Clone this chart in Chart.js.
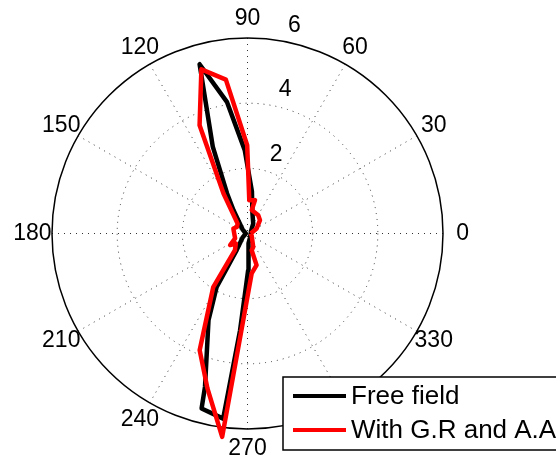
<!DOCTYPE html>
<html>
<head>
<meta charset="utf-8">
<script src="https://cdn.jsdelivr.net/npm/chart.js@4.4.0/dist/chart.umd.min.js"></script>
<style>
    body { margin: 0; background: white; }
    canvas { display: block; }
</style>
</head>
<body>
<canvas id="grafico" width="556" height="465"></canvas>
<script>
// angles in degrees, radii in the same unit as the rings (max ring = 6)
var freeAngles = [0, 40, 60, 76, 84, 91.9, 98.9, 105.8, 111.8, 117, 121, 140, 180, 220, 237, 240, 245.8, 254.5, 255.3, 262.5, 265.6, 271, 276, 300, 360];
var freeRadii  = [0.1, 0.15, 0.35, 0.63, 1.3, 2.56, 4.09, 5.40, 2.87, 1.38, 0.84, 0.2, 0.05, 0.2, 0.61, 1.89, 2.92, 4.88, 5.55, 5.73, 2.98, 1.13, 0.3, 0.15, 0.1];

var withAngles = [0, 28.5, 46.8, 59.5, 79.8, 77.3, 86.9, 90.2, 98, 105.7, 113.9, 121, 135, 148, 160.6, 201.8, 213.8, 220.5, 233, 237.4, 247.7, 255.5, 262.9, 276, 286, 284, 293, 330, 360];
var withRadii  = [0.1, 0.32, 0.56, 0.65, 0.73, 1.05, 1.02, 2.71, 4.77, 5.23, 3.63, 1.43, 0.43, 0.38, 0.46, 0.41, 0.64, 0.47, 0.64, 1.95, 3.87, 4.91, 6.29, 1.23, 1.01, 0.53, 0.45, 0.15, 0.1];

var ringValues = [2, 4, 6];
var spokeAngles = [0, 30, 60, 90, 120, 150];
var angleLabels = ['0', '30', '60', '90', '120', '150', '180', '210', '240', '270', '300', '330'];
var seriesNames = ['Free field', 'With G.R and A.A'];
var rMax = 6;

function toXY(angles, radii) {
    var pts = [];
    for (var i = 0; i < angles.length; i++) {
        var t = angles[i] * Math.PI / 180;
        pts.push({ x: radii[i] * Math.cos(t), y: radii[i] * Math.sin(t) });
    }
    return pts;
}

// grid, labels and legend like the matlab polar() plot
var polarGrid = {
    id: 'polarGrid',
    beforeDatasetsDraw: function(chart) {
        var ctx = chart.ctx;
        var sx = chart.scales.x, sy = chart.scales.y;
        var cx = sx.getPixelForValue(0), cy = sy.getPixelForValue(0);
        var unit = sx.getPixelForValue(1) - cx;

        ctx.save();
        // dotted rings and spokes
        ctx.strokeStyle = '#333';
        ctx.lineWidth = 1;
        ctx.setLineDash([1, 5]);
        for (var i = 0; i < ringValues.length - 1; i++) {
            ctx.beginPath();
            ctx.arc(cx, cy, ringValues[i] * unit, 0, Math.PI * 2);
            ctx.stroke();
        }
        for (var j = 0; j < spokeAngles.length; j++) {
            var t = spokeAngles[j] * Math.PI / 180;
            ctx.beginPath();
            ctx.moveTo(sx.getPixelForValue(-rMax * Math.cos(t)), sy.getPixelForValue(-rMax * Math.sin(t)));
            ctx.lineTo(sx.getPixelForValue(rMax * Math.cos(t)), sy.getPixelForValue(rMax * Math.sin(t)));
            ctx.stroke();
        }
        // outer solid circle
        ctx.setLineDash([]);
        ctx.strokeStyle = 'black';
        ctx.lineWidth = 1.5;
        ctx.beginPath();
        ctx.arc(cx, cy, rMax * unit, 0, Math.PI * 2);
        ctx.stroke();

        // angle labels at 1.1 * rmax
        ctx.fillStyle = 'black';
        ctx.font = '23px "Liberation Sans", Arial, sans-serif';
        ctx.textAlign = 'center';
        ctx.textBaseline = 'middle';
        for (var k = 0; k < angleLabels.length; k++) {
            var a = k * 30 * Math.PI / 180;
            ctx.fillText(angleLabels[k], sx.getPixelForValue(1.1 * rMax * Math.cos(a)), sy.getPixelForValue(1.1 * rMax * Math.sin(a)));
        }
        // radial labels at 82 degrees
        ctx.textAlign = 'left';
        ctx.textBaseline = 'bottom';
        var a82 = 82 * Math.PI / 180;
        for (var m = 0; m < ringValues.length; m++) {
            var rr = ringValues[m] + 0.1;
            ctx.fillText('  ' + ringValues[m], sx.getPixelForValue(rr * Math.cos(a82)), sy.getPixelForValue(rr * Math.sin(a82)));
        }
        ctx.restore();
    },
    afterDraw: function(chart) {
        var ctx = chart.ctx;
        ctx.save();
        ctx.fillStyle = 'white';
        ctx.fillRect(283, 377, 300, 73);
        ctx.strokeStyle = 'black';
        ctx.lineWidth = 1.5;
        ctx.strokeRect(283, 377, 300, 73);

        var cores = ['black', 'red'];
        var ys = [396, 430];
        ctx.lineWidth = 4;
        ctx.font = '26px "Liberation Sans", Arial, sans-serif';
        ctx.textAlign = 'left';
        ctx.textBaseline = 'middle';
        for (var i = 0; i < seriesNames.length; i++) {
            ctx.strokeStyle = cores[i];
            ctx.beginPath();
            ctx.moveTo(293, ys[i]);
            ctx.lineTo(346, ys[i]);
            ctx.stroke();
            ctx.fillStyle = 'black';
            ctx.fillText(seriesNames[i], 351, ys[i] + 1);
        }
        ctx.restore();
    }
};

var grafico = document.getElementById('grafico').getContext('2d');

var meugrafico = new Chart(grafico, {
    type: 'scatter',
    data: {
        datasets: [{
            label: seriesNames[1],
            data: toXY(withAngles, withRadii),
            showLine: true,
            borderColor: 'red',
            borderWidth: 4.5,
            borderJoinStyle: 'round',
            pointRadius: 0,
            clip: false,
            order: 0
        }, {
            label: seriesNames[0],
            data: toXY(freeAngles, freeRadii),
            showLine: true,
            borderColor: 'black',
            borderWidth: 4.5,
            borderJoinStyle: 'round',
            pointRadius: 0,
            clip: false,
            order: 1
        }]
    },
    options: {
        responsive: false,
        animation: false,
        layout: {
            padding: { left: 52, right: 113, top: 38, bottom: 36 }
        },
        scales: {
            x: { type: 'linear', min: -rMax, max: rMax, display: false },
            y: { type: 'linear', min: -rMax, max: rMax, display: false }
        },
        plugins: {
            legend: { display: false },
            tooltip: { enabled: false }
        }
    },
    plugins: [polarGrid]
});
</script>
</body>
</html>
